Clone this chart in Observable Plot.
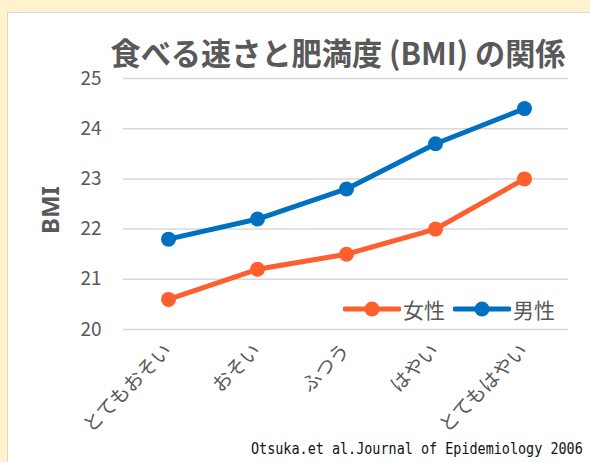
<!DOCTYPE html>
<html><head><meta charset="utf-8">
<script src="https://cdn.jsdelivr.net/npm/d3@7"></script>
<script src="https://cdn.jsdelivr.net/npm/@observablehq/plot@0.6"></script>
<style>
body{margin:0;background:#fff;}
#wrap{position:relative;width:590px;height:462px;background:#fff2cc;overflow:hidden;font-family:"Noto Sans CJK JP","Noto Sans",sans-serif;}
#panel{position:absolute;left:7px;top:12px;width:620px;height:480px;background:#fff;border:1px solid #d6d6d6;box-sizing:border-box;}
#chart{position:absolute;left:0;top:0;}
#chart svg{background:transparent;}
#title{position:absolute;left:0;top:0;}
#ylabel{position:absolute;left:49px;top:210px;transform:translate(-50%,-50%) rotate(-90deg);font-weight:bold;font-size:24px;color:#595959;white-space:nowrap;font-family:"Noto Sans","Noto Sans CJK JP",sans-serif;}
#legend{position:absolute;left:343px;top:294px;display:flex;align-items:center;font-size:21px;color:#595959;}
#legend .item{display:flex;align-items:center;margin-right:8px;}
#legend .item span{margin-left:2px;}
#caption{position:absolute;left:251px;top:439px;font-family:"DejaVu Sans Mono",monospace;font-size:16px;color:#111;white-space:nowrap;transform-origin:0 0;transform:scaleX(0.84);}
</style></head>
<body>
<div id="wrap">
  <div id="panel"></div>
  <div id="chart"></div>
  <svg id="title" width="590" height="90"></svg>
  <div id="ylabel"></div>
  <div id="legend"></div>
  <div id="caption"></div>
</div>
<script>
const titleText = "食べる速さと肥満度 (BMI) の関係";
const yLabel = "BMI";
const captionText = "Otsuka.et al.Journal of Epidemiology 2006";
const categories = ["とてもおそい", "おそい", "ふつう", "はやい", "とてもはやい"];
const seriesNames = ["女性", "男性"];
const female = [20.6, 21.2, 21.5, 22.0, 23.0];
const male = [21.8, 22.2, 22.8, 23.7, 24.4];
const yTicks = [20, 21, 22, 23, 24, 25];
const colors = ["#ff5f2e", "#0070c0"];

const data = [];
categories.forEach((c, i) => {
  data.push({cat: c, series: seriesNames[0], v: female[i]});
  data.push({cat: c, series: seriesNames[1], v: male[i]});
});

const chart = Plot.plot({
  width: 590,
  height: 462,
  marginLeft: 123,
  marginRight: 22,
  marginTop: 78,
  marginBottom: 133,
  style: {background: "transparent", fontFamily: "'Noto Sans CJK JP','Noto Sans',sans-serif"},
  x: {type: "point", domain: categories, padding: 0.5},
  y: {domain: [20, 25], ticks: yTicks},
  color: {domain: seriesNames, range: colors},
  marks: [
    Plot.gridY(yTicks, {stroke: "#d9d9d9", strokeOpacity: 1, strokeWidth: 1.5}),
    Plot.axisY(yTicks, {tickSize: 0, tickPadding: 22, fontSize: 19, fill: "#595959", label: null, tickFormat: d3.format("d")}),
    Plot.axisX({tickRotate: -45, tickSize: 0, tickPadding: 18, fontSize: 19.5, fill: "#595959", label: null}),
    Plot.line(data, {x: "cat", y: "v", z: "series", stroke: "series", strokeWidth: 5, curve: "linear"}),
    Plot.dot(data, {x: "cat", y: "v", fill: "series", r: 7.5, stroke: "none"})
  ]
});
document.getElementById("chart").appendChild(chart);

// title
const tsvg = d3.select("#title");
tsvg.append("text")
  .attr("x", 338).attr("y", 51)
  .attr("text-anchor", "middle")
  .attr("dominant-baseline", "central")
  .attr("font-family", "'Noto Sans CJK JP',sans-serif")
  .attr("font-weight", "bold")
  .attr("font-size", 31)
  .attr("fill", "#595959")
  .attr("textLength", 455)
  .attr("lengthAdjust", "spacingAndGlyphs")
  .text(titleText);

document.getElementById("ylabel").textContent = yLabel;
document.getElementById("caption").textContent = captionText;

const leg = d3.select("#legend");
seriesNames.forEach((s, i) => {
  const it = leg.append("div").attr("class", "item");
  const sw = it.append("svg").attr("width", 58).attr("height", 20);
  sw.append("line").attr("x1", 2).attr("x2", 56).attr("y1", 10).attr("y2", 10)
    .attr("stroke", colors[i]).attr("stroke-width", 5).attr("stroke-linecap", "round");
  sw.append("circle").attr("cx", 29).attr("cy", 10).attr("r", 7.5).attr("fill", colors[i]);
  it.append("span").text(s);
});
</script>
</body></html>
